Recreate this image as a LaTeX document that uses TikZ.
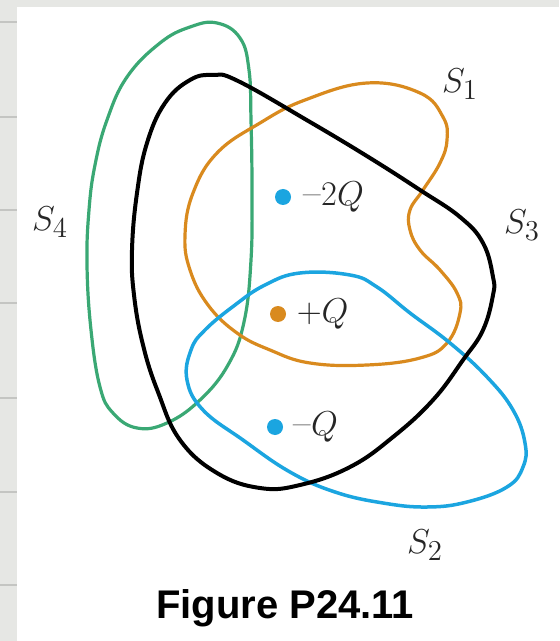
\documentclass[tikz,border=0pt]{standalone}
\usepackage{fontspec}
\newfontfamily\capfont{Liberation Sans}
\usetikzlibrary{positioning}

\definecolor{sgreen}{HTML}{3AA874}
\definecolor{sorange}{HTML}{D98A1E}
\definecolor{sblue}{HTML}{1BA5E0}
\definecolor{framegray}{HTML}{E6E7E4}
\definecolor{tabline}{HTML}{C4C5C2}

\begin{document}
\begin{tikzpicture}[x=0.5pt, y=-0.5pt,
        surface/.style={line width=1.6pt, line join=round},
        charge/.style={circle, inner sep=0pt, minimum size=8pt},
        chargelabel/.style={inner sep=0pt, text=black!85, font=\fontsize{19}{22}\selectfont},
        surflabel/.style={inner sep=0pt, text=black!85, font=\fontsize{19}{22}\selectfont},
        caption/.style={inner sep=0pt, anchor=base, font=\capfont\bfseries\fontsize{20}{24}\selectfont}]
        % Frame
        \useasboundingbox (0,0) rectangle (559,641);
        \fill[framegray] (0,0) rectangle (559,641);
        \fill[white] (17,7) rectangle (559,641);
        \foreach \y in {22,117,210,303,398,492,585}
            \draw[tabline, line width=0.8pt] (0,\y) -- (17,\y);

        % Surfaces
        \draw[surface, sgreen] plot[smooth cycle, tension=0.7] coordinates {
            (217,23) (240,38) (249,70) (251,120) (252,190) (251,260) (244,322)
            (228,365) (200,400) (167,423) (137,428) (113,413) (100,387) (91,330)
            (87,265) (89,210) (95,165) (107,120) (127,77) (160,43) (190,27)};
        \draw[surface, sorange] plot[smooth cycle, tension=0.7] coordinates {
            (367,83) (420,93) (443,117) (447,140) (440,163) (423,190) (410,210)
            (410,230) (420,250) (440,270) (457,293) (460,313) (447,343) (420,358)
            (367,365) (310,363) (270,350) (237,333) (208,305) (190,270) (185,235)
            (193,193) (217,153) (260,123) (305,100)};
        \draw[surface, sblue, line width=1.75pt] plot[smooth cycle, tension=0.7] coordinates {
            (300,273) (350,275) (377,287) (410,313) (450,343) (487,377) (513,410)
            (525,443) (523,467) (507,487) (467,502) (427,507) (383,503) (335,492)
            (290,472) (243,440) (203,410) (187,380) (191,350) (205,330) (235,305)
            (265,285)};
        \draw[surface, black, line width=2pt] plot[smooth cycle, tension=0.7] coordinates {
            (213,75) (238,81) (310,122) (370,158) (420,190) (460,217) (483,243)
            (493,277) (493,295) (483,330) (463,360) (433,400) (393,437) (350,467)
            (300,485) (260,488) (217,473) (180,440) (158,392) (143,345) (134,295)
            (132,250) (137,193) (147,143) (165,103) (190,80)};

        % Charges
        \node[charge, fill=sblue] (qa) at (283,197) {};
        \node[charge, fill=sorange] (qb) at (278,314) {};
        \node[charge, fill=sblue] (qc) at (275,427) {};
        \node[chargelabel, right=6pt of qa] (qalabel) {--$2Q$};
        \node[chargelabel, right=5pt of qb] (qblabel) {$+Q$};
        \node[chargelabel, right=5pt of qc] (qclabel) {--$Q$};

        % Surface labels
        \node[surflabel] (s1) at (460,84) {$S_1$};
        \node[surflabel] (s2) at (425,545) {$S_2$};
        \node[surflabel] (s3) at (522,225) {$S_3$};
        \node[surflabel] (s4) at (50,222) {$S_4$};

        % Caption
        \node[caption] (fig) at (285,618) {Figure P24.11};
    \end{tikzpicture}
\end{document}
